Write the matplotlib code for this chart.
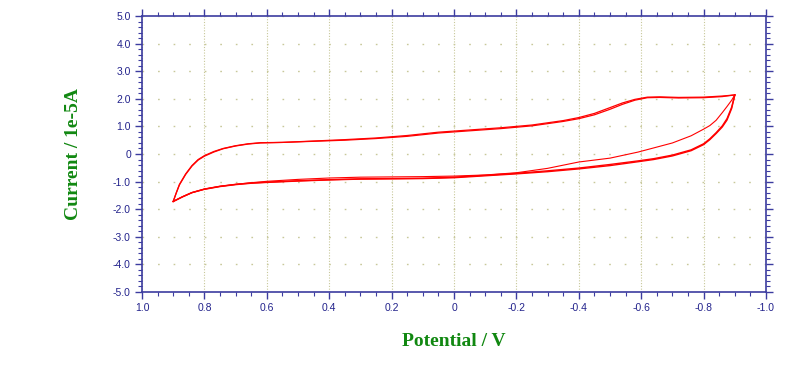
import matplotlib
matplotlib.use("Agg")
import matplotlib.pyplot as plt
from matplotlib.ticker import FixedLocator, MultipleLocator

# --- data (potential in V, current in 1e-5 A) ---
# anodic sweep, 0.9 V -> -0.9 V (shared shape, cycles differ slightly)
anodic_e = [0.90, 0.89, 0.88, 0.86, 0.84, 0.82, 0.80, 0.77, 0.74, 0.70,
            0.66, 0.62, 0.55, 0.45, 0.35, 0.25, 0.15, 0.05, 0.00, -0.05,
            -0.15, -0.25, -0.35, -0.40, -0.45, -0.50, -0.54, -0.58, -0.62,
            -0.66, -0.72, -0.80, -0.86, -0.90]
anodic_i1 = [-1.72, -1.40, -1.10, -0.72, -0.42, -0.20, -0.06, 0.09, 0.20, 0.30,
             0.37, 0.41, 0.42, 0.46, 0.50, 0.56, 0.64, 0.76, 0.80, 0.84,
             0.92, 1.02, 1.18, 1.28, 1.42, 1.62, 1.80, 1.95, 2.04,
             2.05, 2.03, 2.04, 2.08, 2.14]
anodic_i2 = [-1.72, -1.41, -1.12, -0.74, -0.44, -0.22, -0.08, 0.07, 0.19, 0.29,
             0.36, 0.40, 0.42, 0.47, 0.52, 0.58, 0.67, 0.79, 0.83, 0.87,
             0.95, 1.05, 1.21, 1.32, 1.47, 1.68, 1.85, 1.98, 2.06,
             2.07, 2.05, 2.06, 2.10, 2.14]

# cathodic sweep, -0.9 V -> 0.9 V
cathodic_e = [-0.90, -0.89, -0.875, -0.86, -0.84, -0.82, -0.80, -0.76, -0.70,
              -0.64, -0.59, -0.50, -0.40, -0.30, -0.20, -0.10, 0.00, 0.10,
              0.20, 0.30, 0.40, 0.50, 0.60, 0.65, 0.70, 0.75, 0.80, 0.84,
              0.87, 0.90]
# first cycle (the lone thin line)
cathodic_i1 = [2.14, 1.95, 1.72, 1.50, 1.22, 1.03, 0.90, 0.66, 0.40,
               0.22, 0.07, -0.15, -0.29, -0.52, -0.68, -0.76, -0.80, -0.82,
               -0.83, -0.84, -0.87, -0.92, -0.99, -1.04, -1.10, -1.17, -1.27, -1.40,
               -1.55, -1.72]
# later cycles (bundle)
cathodic_i2 = [2.14, 1.65, 1.23, 0.98, 0.74, 0.52, 0.34, 0.12, -0.07,
               -0.20, -0.28, -0.42, -0.54, -0.64, -0.72, -0.79, -0.86, -0.89,
               -0.90, -0.91, -0.94, -0.98, -1.03, -1.06, -1.11, -1.18, -1.28, -1.40,
               -1.55, -1.72]
cathodic_i3 = [2.14, 1.70, 1.28, 1.02, 0.77, 0.55, 0.37, 0.15, -0.04,
               -0.17, -0.25, -0.38, -0.51, -0.61, -0.70, -0.77, -0.84, -0.88,
               -0.89, -0.90, -0.93, -0.97, -1.02, -1.05, -1.10, -1.17, -1.27, -1.40,
               -1.55, -1.72]

x_ticks = [1.0, 0.8, 0.6, 0.4, 0.2, 0.0, -0.2, -0.4, -0.6, -0.8, -1.0]
x_labels = ["1.0", "0.8", "0.6", "0.4", "0.2", "0", "-0.2", "-0.4", "-0.6", "-0.8", "-1.0"]
y_ticks = [5, 4, 3, 2, 1, 0, -1, -2, -3, -4, -5]
y_labels = ["5.0", "4.0", "3.0", "2.0", "1.0", "0", "-1.0", "-2.0", "-3.0", "-4.0", "-5.0"]

AXIS_COLOR = "#3c3ca0"
TEXT_COLOR = "#23238c"
GRID_COLOR = "#c8c89a"
LABEL_COLOR = "#118811"

fig = plt.figure(figsize=(8, 3.8), dpi=100)
ax = fig.add_axes([0.1775, 0.2316, 0.78, 0.7263])

ax.plot(anodic_e, anodic_i1, color="red", lw=0.9)
ax.plot(anodic_e, anodic_i2, color="red", lw=0.9)
ax.plot(cathodic_e, cathodic_i1, color="red", lw=0.8)
ax.plot(cathodic_e, cathodic_i2, color="red", lw=1.0)
ax.plot(cathodic_e, cathodic_i3, color="red", lw=1.0)

ax.set_xlim(1.0, -1.0)
ax.set_ylim(-5.0, 5.0)
ax.xaxis.set_major_locator(FixedLocator(x_ticks))
ax.set_xticklabels(x_labels)
ax.xaxis.set_minor_locator(MultipleLocator(0.05))
ax.yaxis.set_major_locator(FixedLocator(y_ticks))
ax.set_yticklabels(y_labels)
ax.yaxis.set_minor_locator(MultipleLocator(0.2))

# dotted grid: vertical lines dense, horizontal lines sparse dots
ax.xaxis.grid(True, color=GRID_COLOR, linestyle=(0, (1, 1.5)), linewidth=0.8)
ax.yaxis.grid(True, color=GRID_COLOR, linestyle=(0, (1.2, 10)), linewidth=1.0)
ax.set_axisbelow(True)

for side in ["left", "right", "top", "bottom"]:
    ax.spines[side].set_color(AXIS_COLOR)
    ax.spines[side].set_linewidth(1.2)

ax.tick_params(which="both", direction="out", color=AXIS_COLOR,
               top=True, right=True, labeltop=False, labelright=False)
ax.tick_params(which="major", length=5, width=1.0, labelsize=7.5,
               labelcolor=TEXT_COLOR, pad=3)
ax.tick_params(which="minor", length=3, width=0.8)
for lbl in ax.get_xticklabels() + ax.get_yticklabels():
    lbl.set_family("Liberation Sans")

ax.set_xlabel("Potential / V", family="Liberation Serif", fontweight="bold",
              fontsize=14, color=LABEL_COLOR, labelpad=14)
ax.set_ylabel("Current / 1e-5A", family="Liberation Serif", fontweight="bold",
              fontsize=14, color=LABEL_COLOR, labelpad=22)

fig.savefig("out.png", dpi=100)
